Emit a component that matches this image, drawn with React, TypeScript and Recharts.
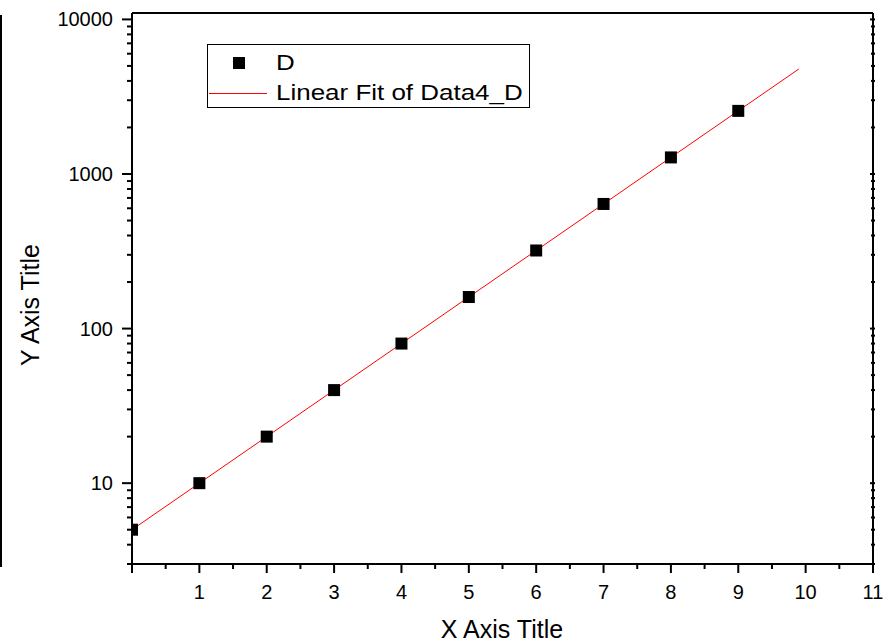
import React from "react";
import {
  ComposedChart,
  Scatter,
  Line,
  XAxis,
  YAxis,
} from "recharts";

const xValues = [0, 1, 2, 3, 4, 5, 6, 7, 8, 9];
const dValues = [5, 10, 20, 40, 80, 160, 320, 640, 1280, 2560];

const fitX = [0, 9.9];
const fitY = [5, 4780];

const xTicks = [0, 0.5, 1, 1.5, 2, 2.5, 3, 3.5, 4, 4.5, 5, 5.5, 6, 6.5, 7, 7.5, 8, 8.5, 9, 9.5, 10, 10.5, 11];
const yTicks = [
  3, 4, 5, 6, 7, 8, 9, 10,
  20, 30, 40, 50, 60, 70, 80, 90, 100,
  200, 300, 400, 500, 600, 700, 800, 900, 1000,
  2000, 3000, 4000, 5000, 6000, 7000, 8000, 9000, 10000,
];
const yLabels = [10, 100, 1000, 10000];

const FONT = '"Liberation Sans", Arial, sans-serif';

const dData = xValues.map((x, i) => ({ x, y: dValues[i] }));
const fitData = fitX.map((x, i) => ({ x, y: fitY[i] }));

const isMajorX = (v: number) => Number.isInteger(v);
const isMajorY = (v: number) => yLabels.includes(v);

// plot area left edge, used to cut the first marker like the original does
const PLOT_LEFT = 132;

function BottomTick({ x, y, payload }: any) {
  const v = payload.value;
  const major = isMajorX(v);
  return (
    <g>
      <line x1={x} x2={x} y1={y} y2={y + (major ? 9 : 5)} stroke="#000" strokeWidth={2} />
      {major && v !== 0 && (
        <text x={x} y={y + 35} textAnchor="middle" fontSize={20} fontFamily={FONT} fill="#000">
          {v}
        </text>
      )}
    </g>
  );
}

function TopTick({ x, y, payload }: any) {
  const major = isMajorX(payload.value);
  return <line x1={x} x2={x} y1={y} y2={y + (major ? 3 : 0)} stroke="#000" strokeWidth={2} />;
}

function LeftTick({ x, y, payload }: any) {
  const v = payload.value;
  const major = isMajorY(v);
  return (
    <g>
      <line x1={x} x2={x - (major ? 10 : 5)} y1={y} y2={y} stroke="#000" strokeWidth={2} />
      {major && (
        <text x={x - 19} y={y + 7} textAnchor="end" fontSize={20} fontFamily={FONT} fill="#000">
          {v}
        </text>
      )}
    </g>
  );
}

function RightTick({ x, y, payload }: any) {
  const major = isMajorY(payload.value);
  return <line x1={x - (major ? 3 : 2)} x2={x + 2} y1={y} y2={y} stroke="#000" strokeWidth={2} />;
}

function SquareDot(p: any) {
  const left = Math.max(p.cx - 6, PLOT_LEFT);
  const right = p.cx + 6;
  return <rect x={left} y={p.cy - 6} width={right - left} height={12} fill="#000" />;
}

function LegendBox() {
  return (
    <div
      style={{
        position: "absolute",
        left: 207,
        top: 44,
        width: 321,
        height: 62,
        border: "1px solid #000",
        background: "#fff",
        fontFamily: FONT,
        fontSize: 22,
        color: "#000",
      }}
    >
      <div style={{ position: "absolute", left: 25, top: 12, width: 12, height: 12, background: "#000" }} />
      <div style={{ position: "absolute", left: 1, top: 48, width: 58, height: 1, background: "#ff0000" }} />
      <div style={{ position: "absolute", left: 68, top: 5, lineHeight: "26px", transform: "scaleX(1.18)", transformOrigin: "left" }}>
        D
      </div>
      <div
        style={{
          position: "absolute",
          left: 68,
          top: 35,
          lineHeight: "26px",
          whiteSpace: "nowrap",
          transform: "scaleX(1.18)",
          transformOrigin: "left",
        }}
      >
        Linear Fit of Data4_D
      </div>
    </div>
  );
}

export default function App() {
  return (
    <div style={{ position: "absolute", left: 0, top: 0, width: 894, height: 644, background: "#fff" }}>
      <div style={{ position: "absolute", left: 0, top: 15, width: 2, height: 552, background: "#000" }} />
      <ComposedChart
        width={894}
        height={644}
        margin={{ top: 8, right: 11, bottom: 40, left: 52 }}
      >
        <XAxis
          xAxisId="bottom"
          dataKey="x"
          type="number"
          domain={[0, 11]}
          ticks={xTicks}
          interval={0}
          height={40}
          tickSize={0}
          tickMargin={0}
          tickLine={false}
          axisLine={{ stroke: "#000", strokeWidth: 2 }}
          tick={<BottomTick />}
        />
        <XAxis
          xAxisId="top"
          orientation="top"
          type="number"
          domain={[0, 11]}
          ticks={xTicks}
          interval={0}
          height={5}
          tickSize={0}
          tickMargin={0}
          tickLine={false}
          axisLine={{ stroke: "#000", strokeWidth: 2 }}
          tick={<TopTick />}
        />
        <YAxis
          yAxisId="left"
          dataKey="y"
          type="number"
          scale="log"
          domain={[3, 11000]}
          allowDataOverflow
          ticks={yTicks}
          interval={0}
          width={80}
          tickSize={0}
          tickMargin={0}
          tickLine={false}
          axisLine={{ stroke: "#000", strokeWidth: 2 }}
          tick={<LeftTick />}
        />
        <YAxis
          yAxisId="right"
          orientation="right"
          type="number"
          scale="log"
          domain={[3, 11000]}
          allowDataOverflow
          ticks={yTicks}
          interval={0}
          width={10}
          tickSize={0}
          tickMargin={0}
          tickLine={false}
          axisLine={{ stroke: "#000", strokeWidth: 2 }}
          tick={<RightTick />}
        />
        <Line
          xAxisId="bottom"
          yAxisId="left"
          data={fitData}
          dataKey="y"
          stroke="#ff0000"
          strokeWidth={1}
          dot={false}
          activeDot={false}
          isAnimationActive={false}
        />
        <Scatter
          xAxisId="bottom"
          yAxisId="left"
          data={dData}
          dataKey="y"
          fill="#000"
          isAnimationActive={false}
          shape={<SquareDot />}
        />
        <text x={502} y={638} textAnchor="middle" fontSize={25} fontFamily={FONT} fill="#000">
          X Axis Title
        </text>
        <text
          x={39}
          y={305}
          textAnchor="middle"
          fontSize={25}
          fontFamily={FONT}
          fill="#000"
          transform="rotate(-90 39 305)"
        >
          Y Axis Title
        </text>
      </ComposedChart>
      <LegendBox />
    </div>
  );
}
